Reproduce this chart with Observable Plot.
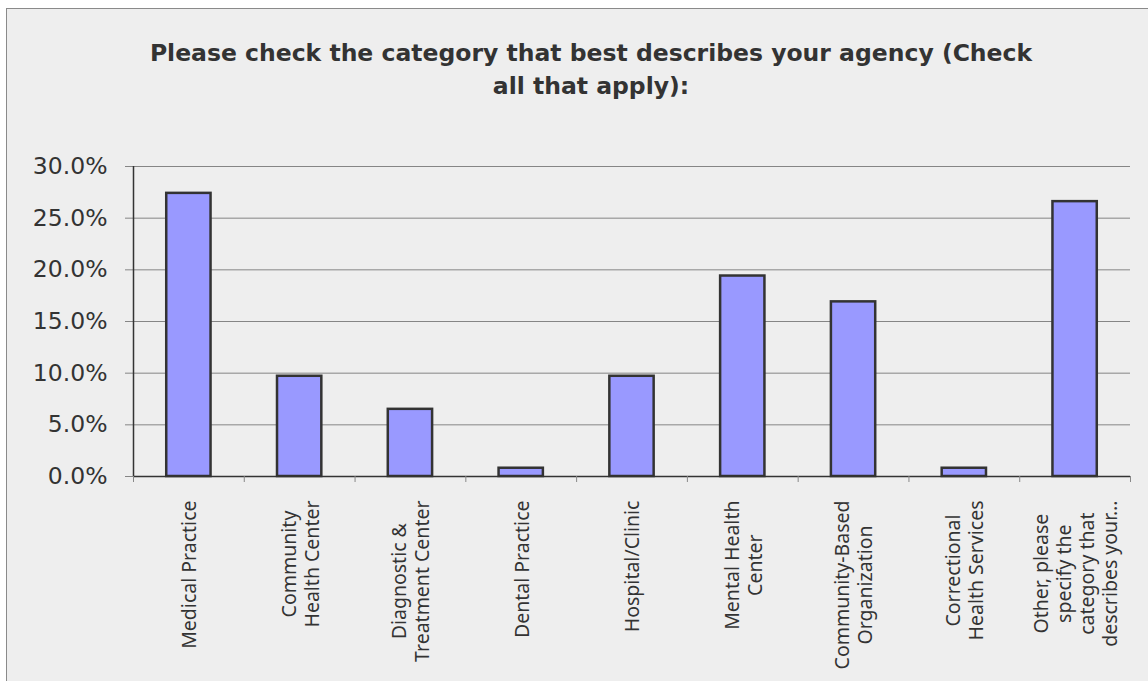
<!DOCTYPE html>
<html>
<head>
<meta charset="utf-8">
<script src="https://cdn.jsdelivr.net/npm/d3@7"></script>
<script src="https://cdn.jsdelivr.net/npm/@observablehq/plot@0.6"></script>
<style>
  html, body { margin: 0; padding: 0; background: #ffffff; overflow: hidden; }
  #frame {
    position: absolute; left: 6px; top: 8px; width: 1160px; height: 700px;
    background: #eeeeee; border-top: 1px solid #8a8a8a; border-left: 1px solid #8a8a8a;
  }
  #title {
    position: absolute; left: 100px; top: 37px; width: 982px; text-align: center;
    font-family: "DejaVu Sans", Verdana, sans-serif; font-weight: bold; font-size: 23.5px;
    line-height: 33px; color: #333333;
  }
  #chart { position: absolute; left: 0; top: 120px; }
</style>
</head>
<body>
<div id="frame"></div>
<div id="title">Please check the category that best describes your agency (Check<br>all that apply):</div>
<div id="chart"></div>
<script>
// ---- data ----
const categories = [
  "Medical Practice",
  "Community Health Center",
  "Diagnostic & Treatment Center",
  "Dental Practice",
  "Hospital/Clinic",
  "Mental Health Center",
  "Community-Based Organization",
  "Correctional Health Services",
  "Other, please specify the category that describes your agency"
];
const tickLabels = [
  "Medical Practice",
  "Community\nHealth Center",
  "Diagnostic &\nTreatment Center",
  "Dental Practice",
  "Hospital/Clinic",
  "Mental Health\nCenter",
  "Community-Based\nOrganization",
  "Correctional\nHealth Services",
  "Other, please\nspecify the\ncategory that\ndescribes your\u2026"
];
const shares = [0.274, 0.097, 0.065, 0.008, 0.097, 0.194, 0.169, 0.008, 0.266];
const yTicks = [0, 0.05, 0.10, 0.15, 0.20, 0.25, 0.30];

const data = categories.map((c, i) => ({category: c, share: shares[i]}));
const labelOf = new Map(categories.map((c, i) => [c, tickLabels[i]]));

const W = 1148, H = 561;
const mL = 133, mR = 18, mT = 46, mB = 205;
const step = (W - mL - mR) / categories.length;

const plot = Plot.plot({
  width: W, height: H,
  marginLeft: mL, marginRight: mR, marginTop: mT, marginBottom: mB,
  style: {background: "transparent", color: "#333333", overflow: "visible", fontFamily: "'Noto Sans', sans-serif"},
  x: {domain: categories, paddingInner: 0.6, paddingOuter: 0.3, round: false, label: null},
  y: {domain: [0, 0.30], label: null},
  marks: [
    Plot.ruleY(yTicks, {stroke: "#858585", strokeWidth: 1}),
    Plot.axisY({ticks: yTicks, tickFormat: d3.format(".1%"), tickSize: 8, tickPadding: 18,
      stroke: "#858585", fontSize: 23.5, fontFamily: "DejaVu Sans", fill: "#333333", label: null}),
    Plot.barY(data, {x: "category", y: "share", fill: "#9999ff", stroke: "#333333", strokeWidth: 2.5}),
    Plot.ruleY([0], {stroke: "#333333", strokeWidth: 1.5}),
    Plot.ruleX([categories[0]], {x: d => d, y1: 0, y2: 0.30, dx: -step / 2, stroke: "#333333", strokeWidth: 1.5}),
    Plot.axisX({ticks: categories, tickSize: 6, text: null, dx: -step / 2, stroke: "#888888", label: null}),
    Plot.axisX({ticks: [categories[categories.length - 1]], tickSize: 6, text: null, dx: step / 2, stroke: "#888888", label: null}),
    Plot.axisX({ticks: categories, tickSize: 0, tickPadding: 24, tickRotate: -90,
      tickFormat: d => labelOf.get(d), lineHeight: 1.18,
      fontSize: 19.5, fill: "#333333", label: null})
  ]
});
document.getElementById("chart").appendChild(plot);

// center the lines of each rotated multi-line label within its top-anchored block
plot.querySelectorAll('g[aria-label="x-axis tick label"] text').forEach(t => {
  const spans = t.querySelectorAll("tspan");
  if (!spans.length) return;
  let maxLen = 0;
  spans.forEach(s => { maxLen = Math.max(maxLen, s.getComputedTextLength()); });
  t.setAttribute("text-anchor", "middle");
  spans.forEach(s => s.setAttribute("x", -maxLen / 2));
});
</script>
</body>
</html>
